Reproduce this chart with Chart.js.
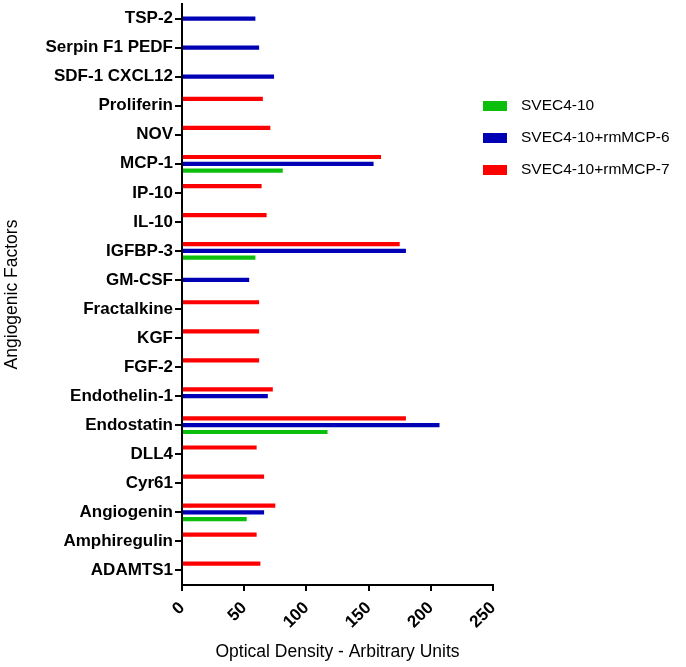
<!DOCTYPE html>
<html lang="en">
<head>
  <meta charset="UTF-8" />
  <title>Angiogenic Factors</title>
  <script src="https://cdn.jsdelivr.net/npm/chart.js"></script>
  <style>
    body { margin: 0; background: #fff; }
    #grafico { display: block; }
  </style>
</head>
<body>

  <canvas id="grafico" width="686" height="667"></canvas>

  <script>
    const factores = ['TSP-2', 'Serpin F1 PEDF', 'SDF-1 CXCL12', 'Proliferin', 'NOV', 'MCP-1', 'IP-10', 'IL-10',
      'IGFBP-3', 'GM-CSF', 'Fractalkine', 'KGF', 'FGF-2', 'Endothelin-1', 'Endostatin', 'DLL4', 'Cyr61',
      'Angiogenin', 'Amphiregulin', 'ADAMTS1'];

    const svec = [null, null, null, null, null, 81, null, null, 59, null, null, null, null, null, 117, null, null, 52, null, null];
    const mcp6 = [59, 62, 74, null, null, 154, null, null, 180, 54, null, null, null, 69, 207, null, null, 66, null, null];
    const mcp7 = [null, null, null, 65, 71, 160, 64, 68, 175, null, 62, 62, 62, 73, 180, 60, 66, 75, 60, 63];

    const ticksX = [0, 50, 100, 150, 200, 250];

    const verde = '#0dbf0d';
    const azul = '#0000b4';
    const rojo = '#ff0000';

    // leyenda propia, a la derecha del área del gráfico
    const leyenda = {
      id: 'leyenda',
      afterDraw(chart) {
        const c = chart.ctx;
        const items = chart.data.datasets.slice().reverse();
        c.save();
        c.font = '15.5px "Liberation Sans", Arial, sans-serif';
        c.textBaseline = 'middle';
        items.forEach((ds, i) => {
          const y = 106 + i * 32;
          c.fillStyle = ds.backgroundColor;
          c.fillRect(483, y - 5, 24, 10);
          c.fillStyle = '#000';
          c.fillText(ds.label, 521, y);
        });
        c.restore();
      }
    };

    const ctx = document.getElementById('grafico').getContext('2d');
    const chart = new Chart(ctx, {
      type: 'bar',
      data: {
        labels: factores,
        datasets: [
          { label: 'SVEC4-10+rmMCP-7', data: mcp7, backgroundColor: rojo },
          { label: 'SVEC4-10+rmMCP-6', data: mcp6, backgroundColor: azul },
          { label: 'SVEC4-10', data: svec, backgroundColor: verde }
        ]
      },
      options: {
        indexAxis: 'y',
        responsive: false,
        animation: false,
        events: [],
        layout: { padding: { top: 4, right: 193, left: 0, bottom: 0 } },
        datasets: { bar: { categoryPercentage: 0.7, barPercentage: 0.62 } },
        plugins: {
          legend: { display: false },
          tooltip: { enabled: false }
        },
        scales: {
          x: {
            type: 'linear',
            min: 0,
            max: 250,
            afterBuildTicks: (s) => { s.ticks = ticksX.map(v => ({ value: v })); },
            afterFit: (s) => { s.height = 82; s.paddingLeft = 0; s.paddingRight = 0; },
            ticks: {
              minRotation: 45,
              maxRotation: 45,
              padding: 7,
              color: '#000',
              font: { family: '"Liberation Sans", Arial, sans-serif', size: 17, weight: 'bold' }
            },
            grid: { drawOnChartArea: false, drawTicks: true, tickLength: 6, color: '#000', lineWidth: 2 },
            border: { display: true, color: '#000', width: 2 },
            title: {
              display: true,
              text: 'Optical Density - Arbitrary Units',
              color: '#000',
              padding: { top: 4, bottom: 4 },
              font: { family: '"Liberation Sans", Arial, sans-serif', size: 17.5 }
            }
          },
          y: {
            afterFit: (s) => { s.width = 182; s.paddingTop = 0; s.paddingBottom = 0; },
            ticks: {
              padding: 2,
              color: '#000',
              autoSkip: false,
              font: { family: '"Liberation Sans", Arial, sans-serif', size: 17, weight: 'bold' }
            },
            grid: { offset: false, drawOnChartArea: false, drawTicks: true, tickLength: 7, color: '#000', lineWidth: 2 },
            border: { display: true, color: '#000', width: 2 },
            title: {
              display: true,
              text: 'Angiogenic Factors',
              color: '#000',
              padding: { top: 2, bottom: 4 },
              font: { family: '"Liberation Sans", Arial, sans-serif', size: 17.5 }
            }
          }
        }
      },
      plugins: [leyenda]
    });
  </script>

</body>
</html>
